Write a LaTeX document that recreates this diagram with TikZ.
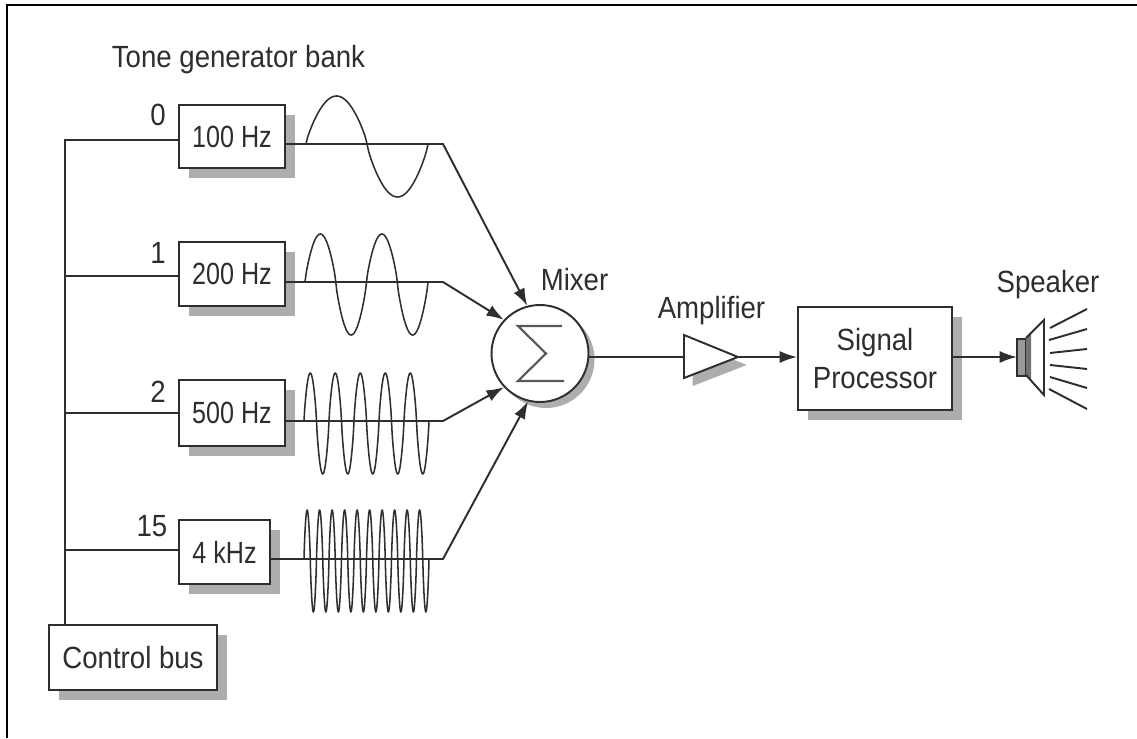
\documentclass[tikz,border=0pt]{standalone}
\usepackage{fontspec}
\setmainfont[FakeStretch=0.9]{Liberation Sans}
\newfontfamily\narrowfont[FakeStretch=0.82]{Liberation Sans}
\usetikzlibrary{shadows,arrows.meta}
\definecolor{ink}{gray}{0.18}
\definecolor{shade}{gray}{0.68}
\tikzset{
  x=0.75pt,y=-0.75pt,
  ln/.style={draw=ink,line width=1.45pt},
  thinwave/.style={draw=ink,line width=1.15pt,line join=round},
  arr/.style={ln,-{Latex[length=13pt,width=9pt]}},
  shd/.style={drop shadow={shadow xshift=7.5pt,shadow yshift=-7.5pt,fill=shade,opacity=1}},
  box/.style={ln,fill=white,shd,inner sep=0pt,text=ink,align=center},
  lbl/.style={text=ink,anchor=base,inner sep=0pt,font=\fontsize{23}{27}\selectfont},
  every node/.append style={font=\fontsize{23}{27}\selectfont}
}
\newcommand{\boxat}[6]{\node[box,minimum width=#4*0.75pt,minimum height=#5*0.75pt] (#1) at (#2,#3) {#6};}
\newcommand{\gentxt}[1]{\raisebox{-1pt}{\narrowfont #1}}
\begin{document}
\begin{tikzpicture}
\useasboundingbox (0,0) rectangle (1137,738);
\fill[white] (0,0) rectangle (1137,738);
\draw[black,line width=1.7pt] (7,738) -- (7,5) -- (1137,5);

% generators
\boxat{g0}{232}{136.5}{106}{63}{\gentxt{100 Hz}}
\boxat{g1}{232}{274}{106}{64}{\gentxt{200 Hz}}
\boxat{g2}{232}{413}{106}{66}{\gentxt{500 Hz}}
\boxat{g3}{224.5}{552}{91}{64}{\gentxt{4 kHz}}
\boxat{cb}{133}{657.5}{168}{65}{Control bus}

% control bus
\coordinate (busTop) at (65,140);
\coordinate (tap1) at (65,276);
\coordinate (tap2) at (65,413);
\coordinate (tap3) at (65,550);
\draw[ln] (g0.west |- busTop) -- (busTop) -- (busTop |- cb.north);
\draw[ln] (tap1) -- (tap1 -| g1.west);
\draw[ln] (tap2) -- (tap2 -| g2.west);
\draw[ln] (tap3) -- (tap3 -| g3.west);

\node[lbl] (n0) at (158,126) {0};
\node[lbl] (n1) at (158,263) {1};
\node[lbl] (n2) at (158,402) {2};
\node[lbl] (n3) at (152,536) {15};
\node[lbl] (title) at (238.5,68) {Tone generator bank};

% mixer
\node[circle,ln,fill=white,minimum size=97*0.75pt,inner sep=0pt,
  drop shadow={shadow xshift=4.5pt,shadow yshift=-4.5pt,fill=shade,opacity=1}] (mixer) at (540,353.5) {};
\draw[ln,line width=1.6pt,draw=ink!80,line join=miter] (562,326) -- (518,326) -- (546,353.5) -- (518,381) -- (564,381);
\node[lbl] (mixlbl) at (574.5,290) {Mixer};

% outputs
\coordinate (b0) at (443,144);
\coordinate (b1) at (443,282);
\coordinate (b2) at (443,421);
\coordinate (b3) at (443,559);
\draw[arr] (b0 -| g0.east) -- (b0) -- (mixer.105);
\draw[arr] (b1 -| g1.east) -- (b1) -- (mixer.137);
\draw[arr] (b2 -| g2.east) -- (b2) -- (mixer.223);
\draw[arr] (b3 -| g3.east) -- (b3) -- (mixer.256);

% waves: rounded lobes, taller below the axis than above it
\draw[thinwave] plot[smooth,domain=0:1,samples=81] ({306+122*\x},{144-(sin(360*\x)>0?48:-53)*pow(abs(sin(360*\x)),0.8)});
\draw[thinwave] plot[smooth,domain=0:2,samples=121] ({305+61.5*\x},{282-(sin(360*\x)>0?48:-53)*pow(abs(sin(360*\x)),0.8)});
\draw[thinwave] plot[smooth,domain=0:5,samples=201] ({304+25*\x},{421-(sin(360*\x)>0?48:-53)*pow(abs(sin(360*\x)),0.8)});
\draw[thinwave] plot[smooth,domain=0:10,samples=321] ({304+12.5*\x},{559-(sin(360*\x)>0?49:-53)*pow(abs(sin(360*\x)),0.8)});

% amplifier
\coordinate (ampIn) at (684,357);
\coordinate (ampOut) at (738,357);
\draw[ln,fill=white,line join=miter,drop shadow={shadow xshift=6.5pt,shadow yshift=-6pt,fill=shade,opacity=1}]
  (684,335) -- (ampOut) -- (684,378) -- cycle;
\node[lbl] (amplbl) at (711.5,318) {Amplifier};

% signal processor
\boxat{sp}{875}{358.5}{154}{103}{\raisebox{-1pt}{Signal}\\[2pt]Processor}
\draw[ln] (ampIn -| mixer.east) -- (ampIn);
\draw[arr] (ampOut) -- (ampOut -| sp.west);

% speaker
\coordinate (spkIn) at (1017,357);
\draw[arr] (spkIn -| sp.east) -- (spkIn);
\draw[ln,fill=black!40] (1017,339) rectangle (1026,376);
\fill[black!55] (1026,338) -- (1031,333) -- (1031,381) -- (1026,375) -- cycle;
\draw[ln,line join=miter] (1026,338) -- (1044,320) -- (1044,395) -- (1026,375);
\draw[ln] (1050,328) -- (1087,309);
\draw[ln] (1049,340) -- (1087,329);
\draw[ln] (1050,353) -- (1087,349);
\draw[ln] (1050,365) -- (1087,369);
\draw[ln] (1050,377) -- (1087,388);
\draw[ln] (1049,389) -- (1087,409);
\node[lbl] (spklbl) at (1048,292) {Speaker};
\end{tikzpicture}
\end{document}
